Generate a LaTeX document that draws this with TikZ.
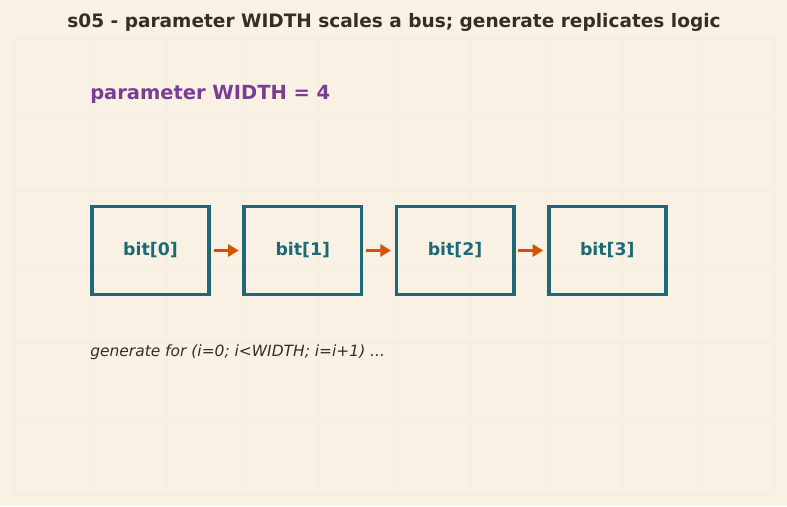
\documentclass[tikz,border=0pt]{standalone}
\usepackage{fontspec}
\setmainfont{DejaVu Sans}
\usetikzlibrary{arrows.meta}
\usetikzlibrary{positioning}
\tikzset{>=latex}
\definecolor{paper}{RGB}{249,242,228}
\definecolor{gridline}{RGB}{244,237,222}
\definecolor{inkbrown}{RGB}{55,45,36}
\definecolor{parampurple}{RGB}{123,60,150}
\definecolor{bitteal}{RGB}{28,106,120}
\definecolor{wireorange}{RGB}{211,84,0}
\tikzstyle{bitbox}=[draw=bitteal,line width=2.8pt,minimum width=88pt,minimum height=66pt,inner sep=0pt,text=bitteal,font=\bfseries\fontsize{13}{15}\selectfont]
\tikzstyle{wire}=[draw=wireorange,line width=2.3pt,-{Triangle[length=8pt,width=9pt]},shorten <=2pt,shorten >=2.6pt]

\begin{document}
\begin{tikzpicture}[x=0.75pt,y=-0.75pt]
    \fill[paper] (0,0) rectangle (787,506);
    \useasboundingbox (0,0) rectangle (787,506);
    % faint background grid
    \foreach \gx in {14,90,...,774}
      \draw[gridline,line width=0.4pt] (\gx,40) -- (\gx,495);
    \foreach \gy in {39,115,...,495}
      \draw[gridline,line width=0.4pt] (14,\gy) -- (775,\gy);

    \node[text=inkbrown,font=\bfseries\fontsize{13.9}{16}\selectfont] (title) at (394,22) {s05 - parameter WIDTH scales a bus; generate replicates logic};
    \node[anchor=west,inner sep=0pt,text=parampurple,font=\bfseries\fontsize{14.6}{17}\selectfont] (param) at (90,94) {parameter WIDTH = 4};

    \node[bitbox] (bit0) at (150.5,250.5) {bit[0]};
    \foreach \i [count=\j from 0] in {1,2,3}{
      \node[bitbox,right=23.4pt of bit\j] (bit\i) {bit[\i]};
      \draw[wire] (bit\j) -- (bit\i);
    }

    \node[anchor=west,inner sep=0pt,text=inkbrown,font=\itshape\fontsize{11.6}{14}\selectfont] (loop) at (90,352) {generate for (i=0; i<WIDTH; i=i+1) ...};
\end{tikzpicture}
\end{document}
